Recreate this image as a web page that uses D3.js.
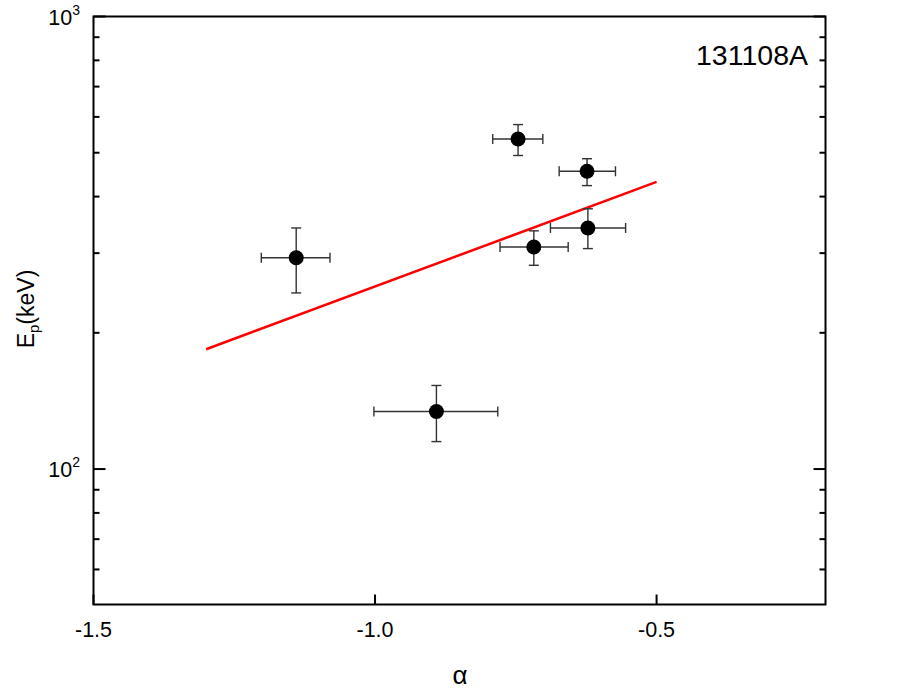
<!DOCTYPE html>
<html>
<head>
<meta charset="utf-8">
<script src="https://cdn.jsdelivr.net/npm/d3@7"></script>
<style>
  html, body { margin: 0; padding: 0; background: #fff; }
  svg { display: block; font-family: "Liberation Sans", Arial, sans-serif; }
</style>
</head>
<body>
<svg id="chart" width="917" height="695"></svg>
<script>
// ---- data ----
const alpha      = [-1.140, -0.891, -0.746, -0.6235, -0.622, -0.718];
const alphaLo    = [-1.202, -1.002, -0.791, -0.673, -0.6885, -0.778];
const alphaHi    = [-1.080, -0.782, -0.702, -0.573, -0.555, -0.657];
const ep         = [293, 134, 536, 455, 341, 309.5];
const epLo       = [245, 115, 493, 423, 307, 282];
const epHi       = [341, 153, 577, 485, 376, 336];
const fitAlpha   = [-1.30, -0.50];
const fitEp      = [184, 431];
const xTicks     = [-1.5, -1.0, -0.5];
const yMajor     = [100, 1000];
const yExp       = ["2", "3"];
const yMinor     = [60, 70, 80, 90, 200, 300, 400, 500, 600, 700, 800, 900];
const label      = "131108A";

// ---- layout ----
const svg = d3.select("#chart");
const L = 93.5, R = 825.5, T = 16.5, B = 604.5;

const x = d3.scaleLinear().domain([-1.5, -0.2]).range([L, R]);
const y = d3.scaleLog().domain([50.2, 1000]).range([B, T]);

const black = "#000";

// frame
svg.append("rect")
  .attr("x", L).attr("y", T).attr("width", R - L).attr("height", B - T)
  .attr("fill", "none").attr("stroke", black).attr("stroke-width", 2);

// x ticks (bottom, inward) and labels
const gx = svg.append("g");
xTicks.forEach(v => {
  gx.append("line").attr("x1", x(v)).attr("x2", x(v))
    .attr("y1", B).attr("y2", B - 10).attr("stroke", black).attr("stroke-width", 2);
  gx.append("text").attr("x", x(v)).attr("y", B + 32)
    .attr("text-anchor", "middle").attr("font-size", 21.5).attr("fill", black)
    .text(d3.format(".1f")(v).replace("−", "-"));
});

// y ticks
const gy = svg.append("g");
yMajor.forEach((v, i) => {
  gy.append("line").attr("x1", L).attr("x2", L + 12)
    .attr("y1", y(v)).attr("y2", y(v)).attr("stroke", black).attr("stroke-width", 2);
  gy.append("line").attr("x1", R).attr("x2", R - 12)
    .attr("y1", y(v)).attr("y2", y(v)).attr("stroke", black).attr("stroke-width", 2);
  const t = gy.append("text").attr("x", 80).attr("y", y(v) + 8)
    .attr("text-anchor", "end").attr("font-size", 21.5).attr("fill", black);
  t.append("tspan").text("10");
  t.append("tspan").attr("dy", -10).attr("font-size", 14).text(yExp[i]);
});
yMinor.forEach(v => {
  gy.append("line").attr("x1", L).attr("x2", L + 6)
    .attr("y1", y(v)).attr("y2", y(v)).attr("stroke", black).attr("stroke-width", 2);
  gy.append("line").attr("x1", R).attr("x2", R - 6)
    .attr("y1", y(v)).attr("y2", y(v)).attr("stroke", black).attr("stroke-width", 2);
});

// axis titles
svg.append("text").attr("x", 460).attr("y", 684)
  .attr("text-anchor", "middle").attr("font-size", 26).attr("fill", black)
  .text("α");

const yl = svg.append("text")
  .attr("transform", "translate(34,309) rotate(-90)")
  .attr("text-anchor", "middle").attr("font-size", 23).attr("fill", black);
yl.append("tspan").text("E");
yl.append("tspan").attr("dy", 5).attr("font-size", 15).text("p");
yl.append("tspan").attr("dy", -5).text("(keV)");

// label
svg.append("text").attr("x", 808).attr("y", 65)
  .attr("text-anchor", "end").attr("font-size", 28.5).attr("fill", black)
  .text(label);

// fit line
const fit = fitAlpha.map((a, i) => [a, fitEp[i]]);
svg.append("path").datum(fit)
  .attr("d", d3.line().x(d => x(d[0])).y(d => y(d[1])))
  .attr("fill", "none").attr("stroke", "#ff0000").attr("stroke-width", 2.5);

// error bars and points
const pts = alpha.map((a, i) => ({ a, lo: alphaLo[i], hi: alphaHi[i], e: ep[i], elo: epLo[i], ehi: epHi[i] }));
const eb = svg.append("g").attr("stroke", "#333").attr("stroke-width", 1.4).attr("fill", "none");
const cap = 5;
pts.forEach(p => {
  eb.append("line").attr("x1", x(p.lo)).attr("x2", x(p.hi)).attr("y1", y(p.e)).attr("y2", y(p.e));
  eb.append("line").attr("x1", x(p.lo)).attr("x2", x(p.lo)).attr("y1", y(p.e) - cap).attr("y2", y(p.e) + cap);
  eb.append("line").attr("x1", x(p.hi)).attr("x2", x(p.hi)).attr("y1", y(p.e) - cap).attr("y2", y(p.e) + cap);
  eb.append("line").attr("x1", x(p.a)).attr("x2", x(p.a)).attr("y1", y(p.elo)).attr("y2", y(p.ehi));
  eb.append("line").attr("x1", x(p.a) - cap).attr("x2", x(p.a) + cap).attr("y1", y(p.elo)).attr("y2", y(p.elo));
  eb.append("line").attr("x1", x(p.a) - cap).attr("x2", x(p.a) + cap).attr("y1", y(p.ehi)).attr("y2", y(p.ehi));
});
svg.append("g").selectAll("circle").data(pts).join("circle")
  .attr("cx", d => x(d.a)).attr("cy", d => y(d.e)).attr("r", 7.5).attr("fill", black);
</script>
</body>
</html>
